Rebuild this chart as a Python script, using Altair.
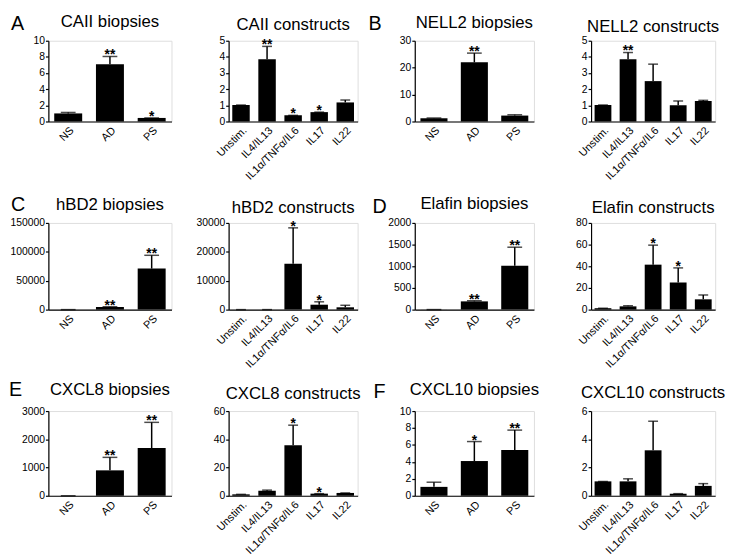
import altair as alt
import pandas as pd

bio_cats = ["NS", "AD", "PS"]
con_cats = ["Unstim.", "IL4/IL13", "IL1α/TNFα/IL6", "IL17", "IL22"]

# ---- data (mean, top of error bar, significance) ----
caii_bio_mean = [1.0, 7.1, 0.44]
caii_bio_top = [1.12, 8.05, 0.44]
caii_bio_star = ["", "**", "*"]

caii_con_mean = [1.02, 3.85, 0.38, 0.58, 1.18]
caii_con_top = [1.02, 4.65, 0.38, 0.58, 1.33]
caii_con_star = ["", "**", "*", "*", ""]

nell2_bio_mean = [1.2, 22.0, 2.2]
nell2_bio_top = [1.3, 25.4, 2.5]
nell2_bio_star = ["", "**", ""]

nell2_con_mean = [1.02, 3.85, 2.5, 1.0, 1.27]
nell2_con_top = [1.02, 4.27, 3.55, 1.27, 1.31]
nell2_con_star = ["", "**", "", "", ""]

hbd2_bio_mean = [1, 4500, 71000]
hbd2_bio_top = [1, 5000, 94000]
hbd2_bio_star = ["", "**", "**"]

hbd2_con_mean = [1, 5, 15900, 1700, 800]
hbd2_con_top = [1, 5, 28300, 2700, 1500]
hbd2_con_star = ["", "", "*", "*", ""]

elafin_bio_mean = [1, 190, 1010]
elafin_bio_top = [1, 205, 1440]
elafin_bio_star = ["", "**", "**"]

elafin_con_mean = [1.3, 3.0, 41.5, 25.0, 9.5]
elafin_con_top = [1.3, 3.6, 59.5, 38.5, 13.5]
elafin_con_star = ["", "", "*", "*", ""]

cxcl8_bio_mean = [1, 900, 1690]
cxcl8_bio_top = [1, 1360, 2600]
cxcl8_bio_star = ["", "**", "**"]

cxcl8_con_mean = [1.0, 3.5, 35.8, 1.5, 2.0]
cxcl8_con_top = [1.0, 4.0, 50.0, 1.5, 2.0]
cxcl8_con_star = ["", "", "*", "*", ""]

cxcl10_bio_mean = [1.05, 4.1, 5.4]
cxcl10_bio_top = [1.6, 6.4, 7.75]
cxcl10_bio_star = ["", "*", "**"]

cxcl10_con_mean = [1.02, 1.02, 3.22, 0.15, 0.7]
cxcl10_con_top = [1.02, 1.2, 5.28, 0.15, 0.86]
cxcl10_con_star = ["", "", "", "", ""]

# axis tick values
caii_bio_ticks = [0, 2, 4, 6, 8, 10]
caii_con_ticks = [0, 1, 2, 3, 4, 5]
nell2_bio_ticks = [0, 10, 20, 30]
nell2_con_ticks = [0, 1, 2, 3, 4, 5]
hbd2_bio_ticks = [0, 50000, 100000, 150000]
hbd2_con_ticks = [0, 10000, 20000, 30000]
elafin_bio_ticks = [0, 500, 1000, 1500, 2000]
elafin_con_ticks = [0, 20, 40, 60, 80]
cxcl8_bio_ticks = [0, 1000, 2000, 3000]
cxcl8_con_ticks = [0, 20, 40, 60]
cxcl10_bio_ticks = [0, 2, 4, 6, 8, 10]
cxcl10_con_ticks = [0, 2, 4, 6]

panel_letters = ["A", "B", "C", "D", "E", "F"]

# ---- layout parameters ----
col_widths = [125, 131, 121, 126]
row_heights = [82, 88, 86]
letter_dx = [-38, -47, -38, -43, -40, -42]
letter_dy = [-11, -11, -12, -10, -15, -13]
title_dy = [-14, -11, -13, -9, -13, -10, -14, -10, -16, -12, -16, -13]

panels = [
    ("CAII biopsies", bio_cats, caii_bio_mean, caii_bio_top, caii_bio_star, caii_bio_ticks),
    ("CAII constructs", con_cats, caii_con_mean, caii_con_top, caii_con_star, caii_con_ticks),
    ("NELL2 biopsies", bio_cats, nell2_bio_mean, nell2_bio_top, nell2_bio_star, nell2_bio_ticks),
    ("NELL2 constructs", con_cats, nell2_con_mean, nell2_con_top, nell2_con_star, nell2_con_ticks),
    ("hBD2 biopsies", bio_cats, hbd2_bio_mean, hbd2_bio_top, hbd2_bio_star, hbd2_bio_ticks),
    ("hBD2 constructs", con_cats, hbd2_con_mean, hbd2_con_top, hbd2_con_star, hbd2_con_ticks),
    ("Elafin biopsies", bio_cats, elafin_bio_mean, elafin_bio_top, elafin_bio_star, elafin_bio_ticks),
    ("Elafin constructs", con_cats, elafin_con_mean, elafin_con_top, elafin_con_star, elafin_con_ticks),
    ("CXCL8 biopsies", bio_cats, cxcl8_bio_mean, cxcl8_bio_top, cxcl8_bio_star, cxcl8_bio_ticks),
    ("CXCL8 constructs", con_cats, cxcl8_con_mean, cxcl8_con_top, cxcl8_con_star, cxcl8_con_ticks),
    ("CXCL10 biopsies", bio_cats, cxcl10_bio_mean, cxcl10_bio_top, cxcl10_bio_star, cxcl10_bio_ticks),
    ("CXCL10 constructs", con_cats, cxcl10_con_mean, cxcl10_con_top, cxcl10_con_star, cxcl10_con_ticks),
]

FONT = "Liberation Sans"


def make_panel(i, title, cats, mean, top, star, ticks):
    df = pd.DataFrame({"cat": cats, "val": mean, "top": top, "star": star})
    is_bio = len(cats) == 3
    w = col_widths[i % 4]
    h = row_heights[i // 4]
    xenc = alt.X(
        "cat:N",
        sort=cats,
        scale=alt.Scale(paddingInner=0.33, paddingOuter=0.14),
        axis=alt.Axis(
            title=None, labelAngle=-45, ticks=False, labelFontSize=11,
            labelColor="black", domainColor="black", domainWidth=1.2,
            labelPadding=3, labelFont=FONT, labelOverlap=False,
        ),
    )
    yscale = alt.Scale(domain=[0, ticks[-1]], nice=False)
    yaxis = alt.Axis(
        title=None, values=ticks, format="d", grid=False, labelFontSize=10.5,
        labelColor="black", domainColor="black", domainWidth=1.2,
        tickColor="black", tickWidth=1.2, tickSize=3, labelPadding=1,
        labelFont=FONT, labelOverlap=False, labelFlush=False,
    )
    base = alt.Chart(df)
    bars = base.mark_bar(color="black").encode(
        x=xenc, y=alt.Y("val:Q", scale=yscale, axis=yaxis)
    )
    err = base.mark_rule(color="black", strokeWidth=1.5).encode(
        x=xenc, y=alt.Y("val:Q", scale=yscale, axis=yaxis), y2="top:Q"
    )
    cap = base.mark_tick(color="black", thickness=1.5, size=15 if is_bio else 10).encode(
        x=xenc, y=alt.Y("top:Q", scale=yscale, axis=yaxis)
    )
    stars = base.mark_text(
        fontSize=14, fontWeight="bold", baseline="alphabetic", dy=3,
        color="black", font=FONT,
    ).encode(x=xenc, y=alt.Y("top:Q", scale=yscale, axis=yaxis), text="star:N")
    tdf = pd.DataFrame({"title": [title]})
    ttl = alt.Chart(tdf).mark_text(
        align="center", baseline="alphabetic", fontSize=17, color="black", font=FONT
    ).encode(x=alt.value(w / 2), y=alt.value(title_dy[i]), text="title:N")
    layers = [bars, err, cap, stars, ttl]
    if is_bio:
        k = i // 2
        ldf = pd.DataFrame({"letter": [panel_letters[k]]})
        letter = alt.Chart(ldf).mark_text(
            align="left", baseline="alphabetic", fontSize=20, color="black", font=FONT
        ).encode(x=alt.value(letter_dx[k]), y=alt.value(letter_dy[k]), text="letter:N")
        layers.append(letter)
    return alt.layer(*layers).properties(width=w, height=h)


charts = [make_panel(i, *p) for i, p in enumerate(panels)]

chart = alt.concat(
    *charts, columns=4, spacing={"row": 103, "column": 58}, bounds="flush"
).properties(padding=0).configure_view(stroke=None).configure(font=FONT)

chart.save("out.html", embed_options={"renderer": "svg", "actions": False})
